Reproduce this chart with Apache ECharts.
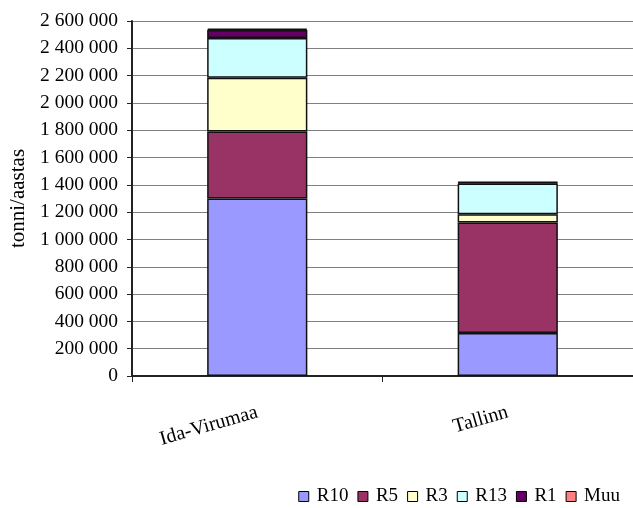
<!DOCTYPE html>
<html>
<head>
<meta charset="utf-8">
<script src="https://cdn.jsdelivr.net/npm/echarts@6/dist/echarts.min.js"></script>
<style>
html,body{margin:0;padding:0;background:#fff;}
#c{width:633px;height:508px;}
</style>
</head>
<body>
<div id="c"></div>
<script>
var categories = ['Ida-Virumaa', 'Tallinn'];
var seriesNames = ['R10', 'R5', 'R3', 'R13', 'R1', 'Muu'];
var R10 = [1300000, 315000];
var R5 = [490000, 810000];
var R3 = [395000, 60000];
var R13 = [290000, 225000];
var R1 = [60000, 6000];
var Muu = [8000, 5000];
var yTicks = [0, 200000, 400000, 600000, 800000, 1000000, 1200000, 1400000, 1600000, 1800000, 2000000, 2200000, 2400000, 2600000];

var colors = ['#9999FF', '#993366', '#FFFFCC', '#CCFFFF', '#660066', '#FF8080'];
var values = [R10, R5, R3, R13, R1, Muu];
var font = 'Liberation Serif, Times New Roman, serif';

function fmt(v) { return String(v).replace(/\B(?=(\d{3})+(?!\d))/g, ' '); }

var chart = echarts.init(document.getElementById('c'));
chart.setOption({
  animation: false,
  color: colors,
  grid: { left: 132, right: 0, top: 21, bottom: 132, containLabel: false },
  legend: {
    data: seriesNames,
    right: 8, bottom: -3,
    itemWidth: 10, itemHeight: 10, itemGap: 9,
    icon: 'rect',
    itemStyle: { borderColor: '#000', borderWidth: 1 },
    textStyle: { fontFamily: font, fontSize: 19, color: '#000', padding: [0, 0, 0, 3] }
  },
  xAxis: {
    type: 'category',
    data: categories,
    axisLine: { lineStyle: { color: '#222', width: 2 } },
    axisTick: { show: true, length: 6, lineStyle: { color: '#222' } },
    axisLabel: { rotate: 16, margin: 36, fontFamily: font, fontSize: 20, color: '#000' },
    splitLine: { show: false }
  },
  yAxis: {
    type: 'value',
    min: yTicks[0], max: yTicks[yTicks.length - 1], interval: 200000,
    name: 'tonni/aastas',
    nameLocation: 'middle',
    nameGap: 103,
    nameTextStyle: { fontFamily: font, fontSize: 21, color: '#000' },
    axisLine: { show: true, lineStyle: { color: '#222', width: 2 } },
    axisTick: { show: true, length: 5, lineStyle: { color: '#222' } },
    axisLabel: { margin: 14, fontFamily: font, fontSize: 19.5, color: '#000', formatter: fmt },
    splitLine: { show: true, lineStyle: { color: '#808080', width: 1 } }
  },
  series: seriesNames.map(function (n, i) {
    return {
      name: n, type: 'bar', stack: 'total',
      data: values[i],
      barWidth: '40%',
      itemStyle: { color: colors[i], borderColor: '#111', borderWidth: 1.5 }
    };
  })
});
</script>
</body>
</html>
